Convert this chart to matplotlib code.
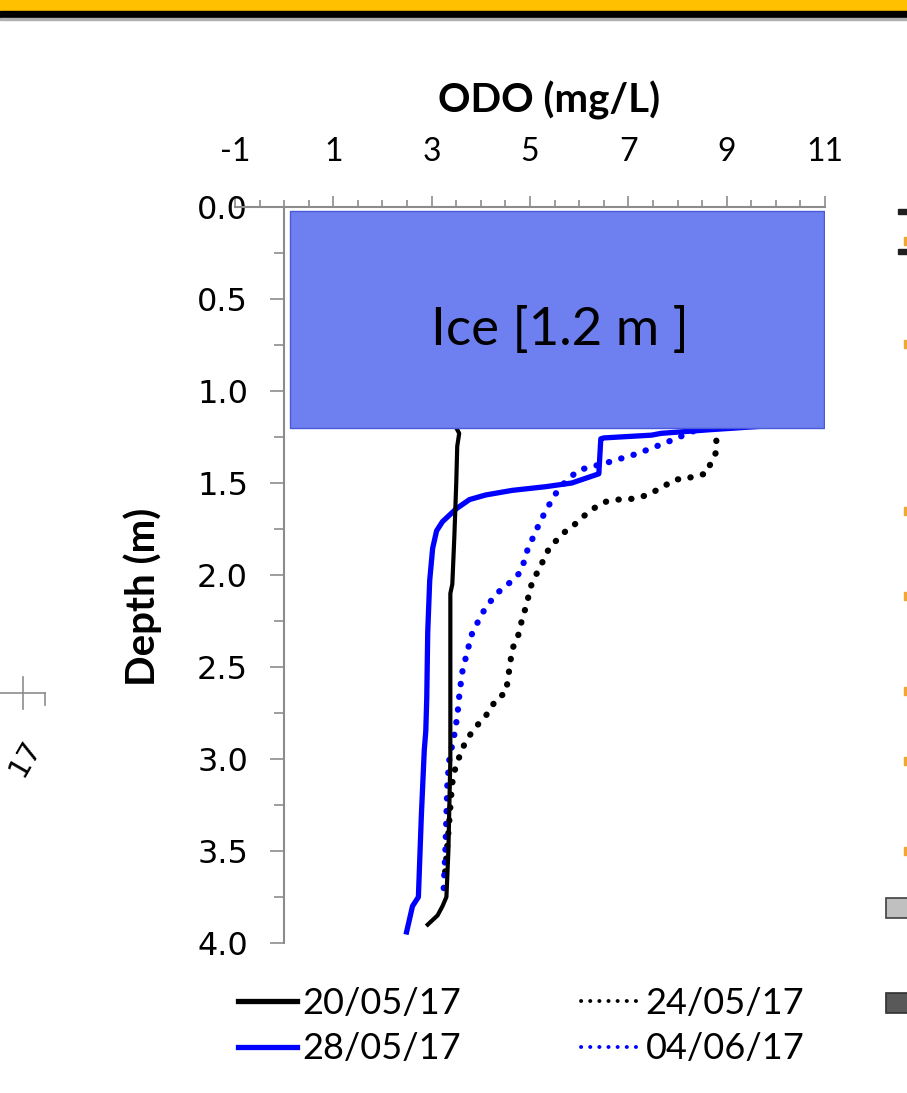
import matplotlib
matplotlib.use("Agg")
import matplotlib.pyplot as plt
from matplotlib.patches import Rectangle
from matplotlib.lines import Line2D
from matplotlib.ticker import MultipleLocator, FixedLocator

plt.rcParams['font.family'] = ['Lato', 'DejaVu Sans']
plt.rcParams['axes.unicode_minus'] = False

# ODO (mg/L) vs depth (m)
odo_2005 = [3.50, 3.56, 3.52, 3.50, 3.46, 3.42, 3.38, 3.38, 3.38, 3.34, 3.30, 3.22, 3.12, 2.92]
dep_2005 = [1.20, 1.23, 1.30, 1.50, 1.80, 2.05, 2.10, 2.60, 3.00, 3.50, 3.75, 3.80, 3.85, 3.90]

odo_2405 = [8.79, 8.79, 8.68, 8.58, 8.36, 8.16, 7.96, 7.77, 7.57, 7.39, 7.19, 6.98, 6.78, 6.56,
            6.40, 6.23, 6.05, 5.89, 5.73, 5.59, 5.42, 5.32, 5.22, 5.12, 5.02, 4.92, 4.84, 4.74,
            4.64, 4.57, 4.51, 4.33, 4.21, 4.09, 3.95, 3.83, 3.70, 3.60, 3.52, 3.46, 3.42, 3.40,
            3.34, 3.26]
dep_2405 = [1.27, 1.33, 1.39, 1.45, 1.46, 1.48, 1.48, 1.51, 1.54, 1.565, 1.58, 1.59, 1.59, 1.60,
            1.62, 1.65, 1.69, 1.73, 1.76, 1.80, 1.84, 1.89, 1.95, 2.00, 2.06, 2.17, 2.24, 2.35,
            2.40, 2.53, 2.64, 2.67, 2.72, 2.77, 2.81, 2.85, 2.90, 2.96, 3.02, 3.07, 3.13, 3.19,
            3.40, 3.66]

odo_2805 = [9.80, 8.68, 7.67, 7.47, 6.50, 6.44, 6.40, 5.85, 5.32, 4.64, 4.10, 3.77, 3.50, 3.22,
            3.10, 3.02, 2.96, 2.92, 2.90, 2.88, 2.85, 2.79, 2.73, 2.61, 2.49]
dep_2805 = [1.19, 1.21, 1.23, 1.24, 1.255, 1.26, 1.45, 1.50, 1.52, 1.54, 1.565, 1.59, 1.64, 1.71,
            1.76, 1.855, 2.03, 2.31, 2.67, 2.85, 2.95, 3.31, 3.75, 3.80, 3.94]

odo_0406 = [8.83, 8.40, 7.77, 7.19, 6.56, 5.99, 5.73, 5.53, 5.32, 5.12, 4.94, 4.82, 4.64, 4.37,
            4.11, 3.97, 3.83, 3.72, 3.62, 3.56, 3.52, 3.46, 3.36, 3.32, 3.30, 3.28, 3.24]
dep_0406 = [1.19, 1.21, 1.28, 1.34, 1.39, 1.43, 1.49, 1.555, 1.65, 1.76, 1.87, 1.98, 2.03, 2.09,
            2.17, 2.24, 2.31, 2.42, 2.53, 2.66, 2.77, 2.87, 3.00, 3.13, 3.31, 3.49, 3.73]

labels = ["20/05/17", "24/05/17", "28/05/17", "04/06/17"]
ice_depth = 1.2
x_ticks = [-1, 1, 3, 5, 7, 9, 11]

W, H = 907, 1093
fig = plt.figure(figsize=(W / 100, H / 100), dpi=100)

# top banner
fig.patches.append(Rectangle((0, 1 - 11 / H), 1, 11 / H, transform=fig.transFigure,
                             color='#FFC000', zorder=0))
fig.patches.append(Rectangle((0, 1 - 18 / H), 1, 7 / H, transform=fig.transFigure,
                             color='#000000', zorder=0))
fig.patches.append(Rectangle((0, 1 - 20 / H), 1, 2 / H, transform=fig.transFigure,
                             color='#b0b0b0', zorder=0))

ax = fig.add_axes([235 / W, 1 - 943 / H, 590 / W, 736 / H])
ax.set_xlim(-1, 11)
ax.set_ylim(4, 0)

ax.spines['right'].set_visible(False)
ax.spines['bottom'].set_visible(False)
ax.spines['left'].set_position(('data', 0))
for s in ['left', 'top']:
    ax.spines[s].set_color('#8c8c8c')
    ax.spines[s].set_linewidth(1.5)

ax.xaxis.tick_top()
ax.xaxis.set_major_locator(FixedLocator(x_ticks))
ax.xaxis.set_minor_locator(MultipleLocator(0.5))
ax.tick_params(axis='x', which='major', length=8, width=1.2, color='#8c8c8c', pad=21, labelsize=23)
ax.tick_params(axis='x', which='minor', length=5, width=1.2, color='#8c8c8c')

ax.yaxis.set_major_locator(MultipleLocator(0.5))
ax.yaxis.set_minor_locator(MultipleLocator(0.25))
ax.yaxis.set_major_formatter(plt.FormatStrFormatter('%.1f'))
ax.tick_params(axis='y', which='major', length=10, width=1.2, color='#8c8c8c', pad=16)
ax.tick_params(axis='y', which='minor', length=7, width=1.2, color='#8c8c8c')
for t in ax.get_yticklabels():
    t.set_fontfamily('DejaVu Sans')
    t.set_fontsize(23)

dots = (0, (0.05, 2.0))
l1, = ax.plot(odo_2005, dep_2005, color='black', lw=3.0, zorder=4)
l2, = ax.plot(odo_2405, dep_2405, color='black', lw=4.5, linestyle=dots,
              dash_capstyle='round', zorder=2)
l3, = ax.plot(odo_2805, dep_2805, color='#0000ff', lw=3.8, zorder=3)
l4, = ax.plot(odo_0406, dep_0406, color='#0000ff', lw=4.5, linestyle=dots,
              dash_capstyle='round', zorder=2)

ax.add_patch(Rectangle((0.12, 0.02), 10.85, ice_depth - 0.02, facecolor='#6e7ff0',
                       edgecolor='#4a5ad8', lw=1, zorder=5))
ax.text(5.6, 0.67, "Ice [1.2 m ]", ha='center', va='center', fontsize=38, zorder=6)

fig.text(549 / W, 1 - 100 / H, "ODO (mg/L)", ha='center', va='center',
         fontsize=29, fontweight='bold')
fig.text(143 / W, 1 - 597 / H, "Depth (m)", ha='center', va='center', rotation=90,
         fontsize=29, fontweight='bold')

# legend
h1 = Line2D([], [], color='black', lw=3.8)
h3 = Line2D([], [], color='#0000ff', lw=3.8)
h2 = Line2D([], [], color='black', lw=2.8, linestyle=(0, (0.05, 2.3)), dash_capstyle='round')
h4 = Line2D([], [], color='#0000ff', lw=2.8, linestyle=(0, (0.05, 2.3)), dash_capstyle='round')
fig.legend([h1, h3, h2, h4], [labels[0], labels[2], labels[1], labels[3]], ncol=2,
           loc='center', bbox_to_anchor=(521 / W, 1 - 1026 / H), frameon=False,
           fontsize=26, handlelength=1.65, handletextpad=0.15, columnspacing=3.3,
           labelspacing=0.35)

# bits of neighbouring charts at the edges
fig.lines.append(Line2D([0, 45 / W], [1 - 693 / H] * 2, transform=fig.transFigure,
                        color='#8c8c8c', lw=1.2))
fig.lines.append(Line2D([23 / W] * 2, [1 - 677 / H, 1 - 709 / H], transform=fig.transFigure,
                        color='#8c8c8c', lw=1.2))
fig.lines.append(Line2D([45 / W] * 2, [1 - 693 / H, 1 - 705 / H], transform=fig.transFigure,
                        color='#8c8c8c', lw=1.2))
fig.text(25 / W, 1 - 758 / H, "17", rotation=60, ha='center', va='center', fontsize=21,
         family='DejaVu Sans')
fig.patches.append(Rectangle((886 / W, 1 - 918 / H), 30 / W, 20 / H, transform=fig.transFigure,
                             facecolor='#c0c0c0', edgecolor='#404040', lw=1.2))
fig.patches.append(Rectangle((886 / W, 1 - 1013 / H), 30 / W, 20 / H, transform=fig.transFigure,
                             facecolor='#595959', edgecolor='#303030', lw=1.2))
for yy in [240, 343, 510, 595, 690, 760, 850]:
    fig.patches.append(Rectangle((904 / W, 1 - (yy + 5) / H), 3 / W, 8 / H,
                                 transform=fig.transFigure, color='#f0a830'))
for yy in [210, 250]:
    fig.patches.append(Rectangle((898 / W, 1 - (yy + 4) / H), 9 / W, 5 / H,
                                 transform=fig.transFigure, color='#202020'))

fig.savefig("out.png", dpi=100)
